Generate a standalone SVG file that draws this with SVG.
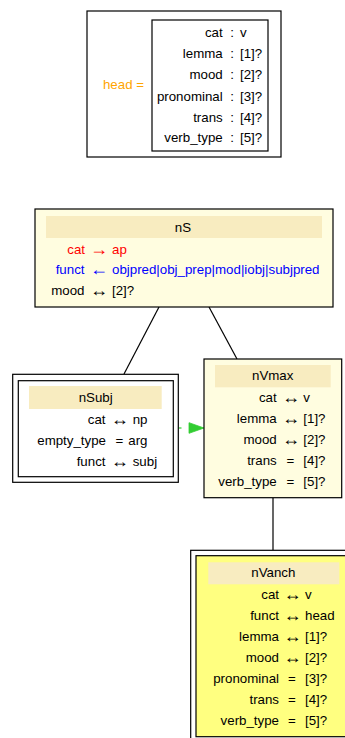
<svg xmlns="http://www.w3.org/2000/svg" width="345" height="738" viewBox="0 0 345 738">
<style>
text{font-family:"Liberation Sans",Arial,sans-serif;font-size:13.3px;fill:#000}
.a{font-size:18px}
.box{fill:#fff;stroke:#000;stroke-width:1.2}
.ly{fill:#fffde0;stroke:#000;stroke-width:1.2}
.yy{fill:#ffff80;stroke:#000;stroke-width:1.2}
.band{fill:#f8ecc0;stroke:none}
.e{text-anchor:end}
.m{text-anchor:middle}
.edge{stroke:#000;stroke-width:1.2;fill:none}
.red{fill:#ff0000}
.blue{fill:#0000ff}
.orange{fill:#ffa500}
</style>
<g id="head">
<rect class="box" x="87" y="11" width="194" height="146"/>
<text class="e orange" x="144" y="88.5">head =</text>
<rect class="box" x="152" y="20" width="116" height="131"/>
<text class="e" x="222.7" y="36.5">cat</text><text class="m" x="232" y="36.5">:</text><text x="240" y="36.5">v</text>
<text class="e" x="222.7" y="57.5">lemma</text><text class="m" x="232" y="57.5">:</text><text x="240" y="57.5">[1]?</text>
<text class="e" x="222.7" y="78.5">mood</text><text class="m" x="232" y="78.5">:</text><text x="240" y="78.5">[2]?</text>
<text class="e" x="222.7" y="100.5">pronominal</text><text class="m" x="232" y="100.5">:</text><text x="240" y="100.5">[3]?</text>
<text class="e" x="222.7" y="121.5">trans</text><text class="m" x="232" y="121.5">:</text><text x="240" y="121.5">[4]?</text>
<text class="e" x="222.7" y="141.5">verb_type</text><text class="m" x="232" y="141.5">:</text><text x="240" y="141.5">[5]?</text>
</g>
<g id="edges">
<line class="edge" x1="159" y1="307" x2="124" y2="374"/>
<line class="edge" x1="209" y1="307" x2="237" y2="359"/>
<line class="edge" x1="273" y1="498" x2="273" y2="550"/>
<line x1="178.5" y1="428" x2="190" y2="428" stroke="#32cd32" stroke-width="1.2" stroke-dasharray="3,9"/>
<polygon points="189,422.7 204,428 189,433.3" fill="#32cd32" stroke="#32cd32" stroke-width="0.8"/>
</g>
<g id="nS">
<rect class="ly" x="35" y="209" width="298" height="98"/>
<rect class="band" x="46" y="216" width="276" height="22"/>
<text class="m" x="183" y="231.5">nS</text>
<text class="e red" x="85" y="253.5">cat</text><text class="m a red" x="99" y="254.5">→</text><text class="red" x="112" y="253.5">ap</text>
<text class="e blue" x="84.5" y="274">funct</text><text class="m a blue" x="99" y="275">←</text><text class="blue" x="112" y="274">objpred|obj_prep|mod|iobj|subjpred</text>
<text class="e" x="84.5" y="294.5">mood</text><text class="m a" x="99" y="295.5">↔</text><text x="112" y="294.5">[2]?</text>
</g>
<g id="nSubj">
<rect class="box" x="12.7" y="374.3" width="165.6" height="108"/>
<rect class="box" x="18.3" y="380.7" width="155" height="96"/>
<rect class="band" x="29" y="386" width="132.7" height="23"/>
<text class="m" x="95.7" y="401.8">nSubj</text>
<text class="e" x="105.5" y="423.5">cat</text><text class="m a" x="119.7" y="424.5">↔</text><text x="132.7" y="423.5">np</text>
<text class="e" x="106" y="444.5">empty_type</text><text class="m" x="119.5" y="444.5">=</text><text x="128.3" y="444.5">arg</text>
<text class="e" x="105.5" y="465.5">funct</text><text class="m a" x="119.7" y="466.5">↔</text><text x="132.7" y="465.5">subj</text>
</g>
<g id="nVmax">
<rect class="ly" x="204" y="359" width="137.7" height="138.7"/>
<rect class="band" x="215" y="365" width="115.7" height="22.3"/>
<text class="m" x="272.7" y="380.2">nVmax</text>
<text class="e" x="276.7" y="401.8">cat</text><text class="m a" x="291" y="402.8">↔</text><text x="303.3" y="401.8">v</text>
<text class="e" x="276.7" y="422.8">lemma</text><text class="m a" x="291" y="423.8">↔</text><text x="303.3" y="422.8">[1]?</text>
<text class="e" x="276.7" y="443.8">mood</text><text class="m a" x="291" y="444.8">↔</text><text x="303.3" y="443.8">[2]?</text>
<text class="e" x="276.7" y="464.5">trans</text><text class="m" x="290.3" y="464.5">=</text><text x="303.3" y="464.5">[4]?</text>
<text class="e" x="276.7" y="485.5">verb_type</text><text class="m" x="290.3" y="485.5">=</text><text x="303.3" y="485.5">[5]?</text>
</g>
<g id="nVanch">
<rect class="box" x="190.7" y="550.3" width="170" height="200"/>
<rect class="yy" x="196" y="555.7" width="160" height="181"/>
<rect class="band" x="208.3" y="562.3" width="131" height="22"/>
<text class="m" x="273.3" y="577.2">nVanch</text>
<text class="e" x="279" y="598.5">cat</text><text class="m a" x="292.5" y="599.5">↔</text><text x="305" y="598.5">v</text>
<text class="e" x="279" y="620.2">funct</text><text class="m a" x="292.5" y="621.2">↔</text><text x="305" y="620.2">head</text>
<text class="e" x="279" y="641.2">lemma</text><text class="m a" x="292.5" y="642.2">↔</text><text x="305" y="641.2">[1]?</text>
<text class="e" x="279" y="662.2">mood</text><text class="m a" x="292.5" y="663.2">↔</text><text x="305" y="662.2">[2]?</text>
<text class="e" x="279" y="682.8">pronominal</text><text class="m" x="292" y="682.8">=</text><text x="305" y="682.8">[3]?</text>
<text class="e" x="279" y="704.2">trans</text><text class="m" x="292" y="704.2">=</text><text x="305" y="704.2">[4]?</text>
<text class="e" x="279" y="725.2">verb_type</text><text class="m" x="292" y="725.2">=</text><text x="305" y="725.2">[5]?</text>
</g>
</svg>
